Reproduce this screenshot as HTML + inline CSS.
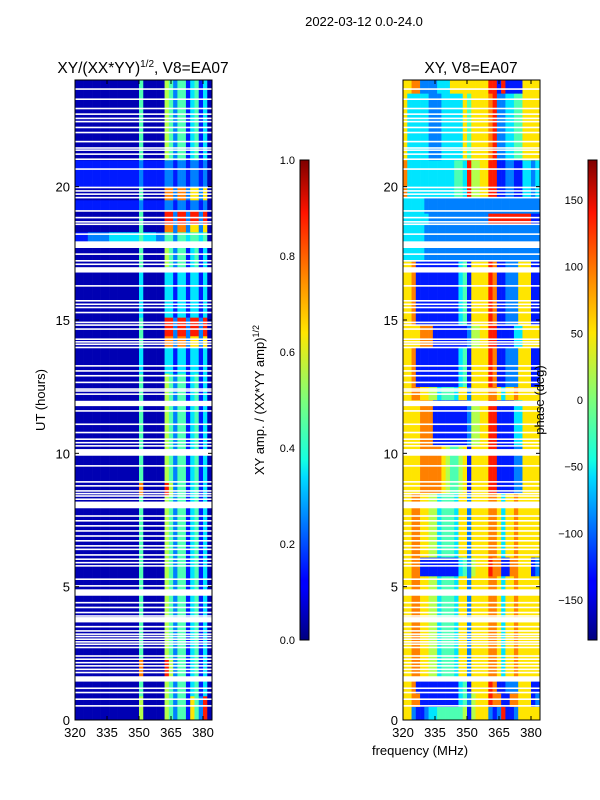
<!DOCTYPE html>
<html><head><meta charset="utf-8">
<style>
body{margin:0;background:#fff;}
svg{display:block;font-family:"Liberation Sans","DejaVu Sans",sans-serif;}
text{fill:#000;}
</style></head>
<body>
<svg id="fig" width="600" height="800" viewBox="0 0 600 800" xmlns="http://www.w3.org/2000/svg">
<defs>
<linearGradient id="jet" x1="0" y1="1" x2="0" y2="0">
<stop offset="0" stop-color="#00007f"/><stop offset="0.11" stop-color="#0000ff"/>
<stop offset="0.125" stop-color="#0000ff"/><stop offset="0.34" stop-color="#00dcff"/>
<stop offset="0.375" stop-color="#14ffe2"/><stop offset="0.5" stop-color="#7dff7a"/>
<stop offset="0.64" stop-color="#ffe600"/><stop offset="0.75" stop-color="#ff8c00"/>
<stop offset="0.89" stop-color="#ff1300"/><stop offset="1" stop-color="#7f0000"/>
</linearGradient>
</defs>
<text x="364" y="26" font-size="13" text-anchor="middle">2022-03-12 0.0-24.0</text>
<text x="143" y="73" font-size="15.5" text-anchor="middle">XY/(XX*YY)<tspan font-size="10" dy="-6">1/2</tspan><tspan dy="6">, V8=EA07</tspan></text>
<text x="471" y="73" font-size="15.5" text-anchor="middle">XY, V8=EA07</text>
<g id="left"></g>
<g id="right"></g>
<g id="axes"></g>
<text transform="translate(45,400) rotate(-90)" font-size="13" text-anchor="middle">UT (hours)</text>
<text x="420" y="755" font-size="13" text-anchor="middle">frequency (MHz)</text>
<rect x="300" y="160" width="9" height="480" fill="url(#jet)" stroke="#000" stroke-width="1"/>
<rect x="588" y="160" width="9" height="480" fill="url(#jet)" stroke="#000" stroke-width="1"/>
<text transform="translate(264,400) rotate(-90)" font-size="13" text-anchor="middle">XY amp. / (XX*YY amp)<tspan font-size="9" dy="-5">1/2</tspan></text>
<text transform="translate(544,400) rotate(-90)" font-size="13" text-anchor="middle">phase (deg)</text>
</svg>
<script>
// ---- data ----
const freqTicks=[320,335,350,365,380];
const timeTicks=[0,5,10,15,20];
const ampTicks=[0.0,0.2,0.4,0.6,0.8,1.0];
const phaseTicks=[-150,-100,-50,0,50,100,150];
const ampTickLabels=["0.0","0.2","0.4","0.6","0.8","1.0"];
// left amplitude profiles (32 freq bins of 2 MHz from 320), digit d -> (d+0.5)/10
const ampProfiles={
A:"000000000000000400000"+"54244134130",
A2:"000000000000000500000"+"54244164280",
D:"000000000000000300000"+"33133133130",
Y:"000000000000000400000"+"77277266260",
R:"000000000000000400000"+"88288288280",
O:"000000000000000700000"+"85244134130",
C:"111222223333333"+"4"+"33322"+"44244344340",
E:"111111111111111211111"+"22122122120"
};
const ampSegments=[[0,0.9,"A2"],[0.9,1.5,"A"],[1.5,2.3,"O"],[2.3,5.8,"A"],[5.8,8.4,"A"],[8.4,8.9,"O"],[8.9,13,"A"],[13,14,"D"],[14,14.4,"Y"],[14.4,15.1,"R"],[15.1,17,"D"],[17,17.8,"A"],[17.8,18.3,"C"],[18.3,18.6,"Y"],[18.6,19.1,"R"],[19.1,19.5,"E"],[19.5,20,"Y"],[20,21,"E"],[21,24,"A"]];
// right phase profiles
const phaseProfiles={
P1:"662112334444445"+"1"+"5666"+"212811266666",
P2:"667766553444366"+"2"+"6666"+"776366766666",
P3:"667711111111134"+"2"+"5666"+"877117766612",
P4:"666677777654456"+"1"+"6666"+"881111226666",
P5:"666677711111111"+"2"+"5566"+"881111336666",
P6:"667111111111134"+"1"+"6666"+"871122266611",
P7:"333332222222222"+"2"+"2222"+"222222222222",
P8:"333333222222222"+"2"+"2222"+"888888888811",
P9:"733333333333443"+"8"+"5566"+"881122113323",
P10:"633333222333336"+"4"+"6666"+"782233446666",
P11:"667722223336666"+"6"+"6666"+"881811116666"
};
const phaseSegments=[[0,0.5,"P1"],[0.5,1,"P3"],[1,1.5,"P6"],[1.5,5.4,"P2"],[5.4,6.1,"P3"],[6.1,8.5,"P2"],[8.5,10.3,"P4"],[10.3,12,"P5"],[12,12.5,"P2"],[12.5,14,"P6"],[14,14.8,"P5"],[14.8,17.2,"P6"],[17.2,18.6,"P7"],[18.6,19,"P8"],[19,19.6,"P7"],[19.6,21,"P9"],[21,23.5,"P10"],[23.5,24,"P11"]];
// flagged (white) time gaps: [hour, duration]
const gapTimes=[0.5,0.75,1.0,1.16,1.44,1.75,1.87,2.0,2.12,2.25,2.37,2.69,2.81,2.9,3.0,3.1,3.19,3.31,3.47,3.66,3.87,4.0,4.19,4.37,4.66,4.84,5.0,5.25,5.75,5.87,6.0,6.16,6.37,6.5,6.69,6.87,7.06,7.25,7.44,7.62,7.94,8.25,8.37,8.46,8.56,8.75,8.9,9.5,9.91,10.25,10.37,10.5,10.75,11.06,11.56,11.77,12.19,12.31,12.38,12.63,12.88,13.06,13.25,13.94,14.06,14.15,14.25,14.63,14.78,14.88,15.25,15.44,15.56,15.69,16.25,16.78,17.06,17.19,17.44,17.7,18.19,18.56,18.65,18.81,19.06,19.56,19.69,19.81,19.94,20.63,21.0,21.19,21.34,21.42,21.66,22.0,22.19,22.41,22.53,22.69,22.9,23.25,23.63];
const gapDur=[0.06,0.06,0.06,0.06,0.2,0.06,0.06,0.06,0.06,0.06,0.06,0.06,0.06,0.06,0.06,0.06,0.06,0.06,0.06,0.2,0.06,0.06,0.06,0.06,0.2,0.06,0.06,0.06,0.06,0.06,0.06,0.06,0.06,0.06,0.06,0.06,0.06,0.06,0.06,0.06,0.25,0.06,0.06,0.06,0.06,0.06,0.06,0.06,0.25,0.06,0.06,0.06,0.06,0.06,0.06,0.2,0.06,0.06,0.06,0.06,0.06,0.06,0.06,0.06,0.06,0.06,0.06,0.06,0.06,0.06,0.06,0.06,0.06,0.06,0.06,0.2,0.06,0.06,0.06,0.25,0.06,0.06,0.06,0.06,0.06,0.06,0.06,0.06,0.06,0.06,0.06,0.06,0.06,0.06,0.06,0.06,0.06,0.06,0.06,0.06,0.06,0.06,0.06];

// ---- axis functions ----
const F0=320,FBIN=2,PXMHZ=128/60;
const panels={left:75,right:403};
function xs(p,f){return panels[p]+(f-F0)*PXMHZ;}
function ys(h){return 720-h*640/24;}
function jet(v){const c=x=>Math.round(255*Math.max(0,Math.min(1,x)));return `rgb(${c(1.5-Math.abs(4*v-3))},${c(1.5-Math.abs(4*v-2))},${c(1.5-Math.abs(4*v-1))})`;}
const NS="http://www.w3.org/2000/svg";
function mk(tag,attrs,parent){const e=document.createElementNS(NS,tag);for(const k in attrs)e.setAttribute(k,attrs[k]);parent.appendChild(e);return e;}

function drawHeat(p,segments,profiles,name){
  const g=document.getElementById(p);
  segments.forEach(s=>{
    const prof=profiles[s[2]];
    for(let i=0;i<prof.length;i++){
      const v=(parseInt(prof[i])+0.5)/10;
      const x0=xs(p,F0+i*FBIN),x1=xs(p,F0+(i+1)*FBIN);
      const r=mk("rect",{x:x0,y:ys(s[1]),width:x1-x0+0.3,height:ys(s[0])-ys(s[1])+0.3,fill:jet(v)},g);
      
      
    }
  });
  gapTimes.forEach((t,i)=>{
    const r=mk("rect",{x:panels[p],y:ys(t+gapDur[i]),width:137,height:ys(t)-ys(t+gapDur[i]),fill:"#fff"},g);
    
    
  });
}
drawHeat("left",ampSegments,ampProfiles,"amp");
drawHeat("right",phaseSegments,phaseProfiles,"phase");

const ax=document.getElementById("axes");
["left","right"].forEach(p=>{
  const x0=panels[p];
  const fr=mk("rect",{x:x0,y:80,width:137,height:640,fill:"none",stroke:"#000","stroke-width":1},ax);
  
  
  freqTicks.forEach(f=>{
    const x=xs(p,f);
    mk("line",{x1:x,x2:x,y1:720,y2:716,stroke:"#000"},ax);
    mk("line",{x1:x,x2:x,y1:80,y2:84,stroke:"#000"},ax);
    const t=mk("text",{x:x,y:737,"font-size":13,"text-anchor":"middle"},ax);
    t.textContent=f;
    
    
  });
  timeTicks.forEach(h=>{
    const y=ys(h);
    mk("line",{x1:x0,x2:x0+4,y1:y,y2:y,stroke:"#000"},ax);
    mk("line",{x1:x0+137,x2:x0+133,y1:y,y2:y,stroke:"#000"},ax);
    const t=mk("text",{x:x0-5,y:y+5,"font-size":13,"text-anchor":"end"},ax);
    t.textContent=h;
    
    
  });
});
function cbTicks(x,ticks,labels,lo,hi){
  ticks.forEach((v,i)=>{
    const y=640-(v-lo)/(hi-lo)*480;
    mk("line",{x1:x,x2:x+2,y1:y,y2:y,stroke:"#000"},ax);
    mk("line",{x1:x+9,x2:x+7,y1:y,y2:y,stroke:"#000"},ax);
    const t=mk("text",{x:x-5,y:y+4,"font-size":11,"text-anchor":"end"},ax);
    t.textContent=labels[i];
    
    
  });
}
cbTicks(300,ampTicks,ampTickLabels,0,1);
cbTicks(588,phaseTicks,phaseTicks.map(v=>v<0?"\u2212"+(-v):String(v)),-180,180);
</script>
</body></html>
